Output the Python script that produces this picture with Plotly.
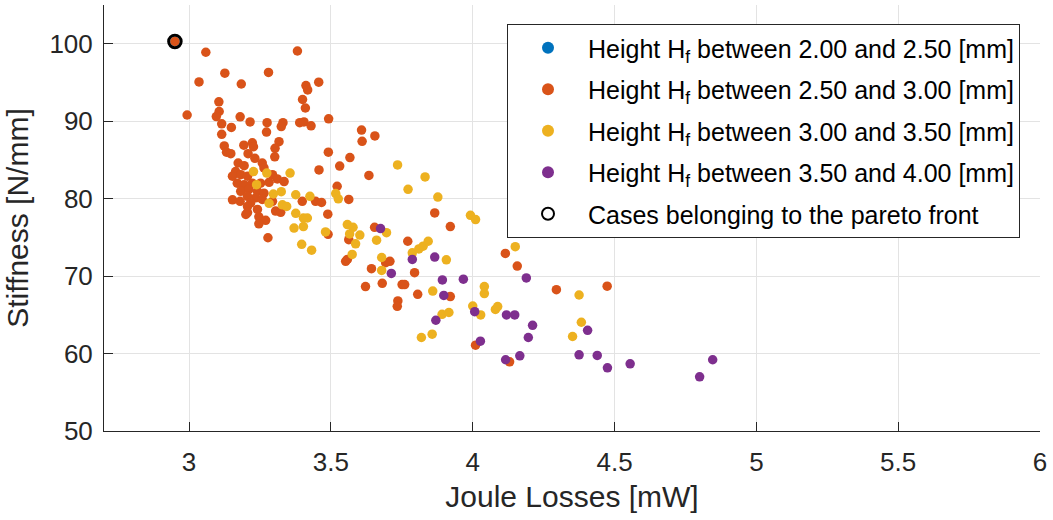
import plotly.graph_objects as go

# Joule losses [mW] and stiffness [N/mm] for each simulated case, grouped by height H_f
h200_250_x = []
h200_250_y = []

h250_300_x = [2.950, 3.059, 3.382, 3.126, 3.280, 3.035, 3.184, 3.412, 3.418, 3.457,
              3.400, 3.410, 3.105, 3.106, 3.096, 2.993, 3.180, 3.115, 3.149, 3.215,
              3.275, 3.273, 3.331, 3.325, 3.390, 3.405, 3.430, 3.492, 3.115, 3.491,
              3.124, 3.132, 3.147, 3.193, 3.223, 3.227, 3.208, 3.317, 3.303, 3.302,
              3.232, 3.567, 3.173, 3.194, 3.258, 3.264, 3.164, 3.153, 3.182, 3.206,
              3.294, 3.311, 3.335, 3.170, 3.194, 3.223, 3.252, 3.282, 3.182, 3.211,
              3.241, 3.264, 3.206, 3.235, 3.258, 3.153, 3.180, 3.217, 3.206, 3.241,
              3.294, 3.305, 3.323, 3.200, 3.246, 3.270, 3.246, 3.278, 3.399, 3.446,
              3.458, 3.206, 3.467, 3.531, 3.522, 3.489, 3.563, 3.490, 3.608, 3.610,
              3.655, 3.634, 3.866, 3.921, 3.654, 3.563, 3.558, 3.552, 3.771, 3.693,
              3.708, 3.643, 3.795, 3.622, 3.681, 3.751, 3.760, 3.806, 3.736, 3.734,
              3.921, 4.115, 4.157, 4.010, 4.130, 4.295, 4.474]
h250_300_y = [100.3, 98.9, 99.06, 96.2, 96.3, 95.07, 94.8, 94.6, 94.04, 95.03,
              92.8, 91.7, 92.5, 91.25, 90.6, 90.8, 90.56, 89.66, 89.2, 89.9,
              89.8, 88.6, 89.8, 89.3, 89.8, 89.9, 89.4, 90.3, 88.3, 86.0,
              86.8, 86.0, 85.8, 86.9, 87.2, 86.7, 85.8, 87.35, 86.5, 85.4,
              85.2, 85.3, 84.6, 84.25, 84.6, 83.96, 83.5, 82.9, 83.1, 82.9,
              83.1, 82.55, 82.2, 82.0, 81.8, 82.0, 82.0, 82.1, 80.95, 81.2,
              80.95, 80.7, 80.3, 80.1, 79.9, 79.85, 79.66, 79.45, 79.0, 78.6,
              79.66, 78.4, 78.24, 77.95, 77.65, 77.2, 76.75, 74.95, 79.66, 79.66,
              83.7, 78.2, 79.5, 84.2, 81.6, 78.0, 79.9, 75.4, 88.85, 87.4,
              88.1, 83.0, 78.16, 76.4, 76.3, 74.7, 72.15, 71.9, 74.5, 71.73,
              71.9, 70.95, 70.44, 68.64, 69.06, 68.9, 68.9, 67.65, 66.8, 66.1,
              67.35, 72.92, 71.3, 61.08, 58.93, 68.25, 68.7]

h300_350_x = [3.227, 3.274, 3.356, 3.238, 3.297, 3.325, 3.376, 3.426, 3.282, 3.329,
              3.344, 3.376, 3.403, 3.417, 3.403, 3.370, 3.397, 3.432, 3.481, 3.517,
              3.526, 3.558, 3.578, 3.566, 3.602, 3.587, 3.575, 3.661, 3.696, 3.679,
              3.679, 3.787, 3.810, 3.825, 3.843, 3.907, 3.992, 4.010, 3.735, 3.832,
              3.772, 3.877, 3.859, 3.892, 3.916, 3.819, 3.857, 4.000, 4.028, 4.041,
              4.041, 4.080, 4.088, 4.150, 4.375, 4.383, 4.352]
h300_350_y = [83.5, 83.3, 83.3, 81.8, 80.6, 80.9, 80.5, 80.3, 79.4, 79.2,
              79.0, 78.1, 77.5, 77.5, 76.4, 76.2, 74.1, 73.35, 75.7, 80.65,
              79.97, 76.65, 76.3, 75.45, 75.3, 74.17, 72.8, 74.64, 75.6, 72.4,
              70.73, 73.0, 73.5, 73.86, 74.5, 72.1, 77.85, 77.3, 84.35, 82.8,
              81.2, 80.2, 68.07, 65.07, 65.3, 62.07, 62.5, 66.14, 64.98, 68.64,
              67.74, 65.7, 66.06, 73.8, 67.56, 64.04, 62.2]

h350_400_x = [3.675, 3.787, 3.866, 3.713, 3.893, 3.967, 3.898, 4.007, 3.870, 4.027,
              4.119, 4.148, 4.189, 4.211, 4.196, 4.116, 4.166, 4.375, 4.439, 4.475,
              4.555, 4.800, 4.846, 4.405]
h350_400_y = [76.14, 72.15, 72.45, 70.35, 69.5, 69.6, 67.5, 65.4, 64.3, 61.6,
              64.98, 64.98, 69.76, 63.65, 62.07, 59.2, 59.7, 59.83, 59.75, 58.16,
              58.67, 57.0, 59.2, 63.0]

# Cases on the pareto front
pareto_x = [2.950]
pareto_y = [100.3]

group_names = [
    "Height H<sub>f</sub> between 2.00 and 2.50 [mm]",
    "Height H<sub>f</sub> between 2.50 and 3.00 [mm]",
    "Height H<sub>f</sub> between 3.00 and 3.50 [mm]",
    "Height H<sub>f</sub> between 3.50 and 4.00 [mm]",
]
group_colors = ["#0072BD", "#D95319", "#EDB120", "#7E2F8E"]
group_data = [
    (h200_250_x, h200_250_y),
    (h250_300_x, h250_300_y),
    (h300_350_x, h300_350_y),
    (h350_400_x, h350_400_y),
]

TEXT = "#262626"
FONT = "Arial, Liberation Sans, Helvetica, sans-serif"

fig = go.Figure()
for i, ((xs, ys), name, color) in enumerate(zip(group_data, group_names, group_colors)):
    # an empty group still gets its legend entry through a single missing point
    fig.add_trace(go.Scatter(
        x=xs if xs else [None], y=ys if ys else [None],
        mode="markers", name=name,
        legendgroup=f"g{i}",
        marker=dict(color=color, size=9.5, line=dict(width=0)),
    ))

fig.add_trace(go.Scatter(
    x=pareto_x, y=pareto_y, mode="markers",
    name="Cases belonging to the pareto front",
    legendgroup="pareto",
    marker=dict(symbol="circle-open", color="black", size=12.5,
                line=dict(color="black", width=3)),
))

axis_common = dict(
    showline=True, linecolor=TEXT, linewidth=1,
    ticks="inside", ticklen=9, tickcolor=TEXT, tickwidth=1,
    showgrid=True, gridcolor="#e3e3e3", gridwidth=1,
    zeroline=False, mirror=False,
    tickfont=dict(family=FONT, size=26, color=TEXT),
)

fig.update_layout(
    width=1053, height=520,
    margin=dict(l=104, r=13, t=5, b=89),
    paper_bgcolor="white", plot_bgcolor="white",
    font=dict(family=FONT, color=TEXT),
    xaxis=dict(range=[2.7, 6], tick0=3, dtick=0.5, ticklabelstandoff=8,
               title=dict(text="Joule Losses [mW]", standoff=9,
                          font=dict(family=FONT, size=30, color=TEXT)),
               **axis_common),
    yaxis=dict(range=[50, 105], tick0=50, dtick=10, ticklabelstandoff=5,
               title=dict(text="Stiffness [N/mm]", standoff=11,
                          font=dict(family=FONT, size=30, color=TEXT)),
               **axis_common),
    showlegend=True,
    legend=dict(
        x=(507 - 104) / 936, y=(431 - 24) / 426,
        xanchor="left", yanchor="top",
        bgcolor="white", bordercolor="#262626", borderwidth=1,
        font=dict(family=FONT, size=25, color="black"),
        itemwidth=70, itemsizing="constant",
        tracegroupgap=6,
    ),
)

fig.write_html("out.html")
